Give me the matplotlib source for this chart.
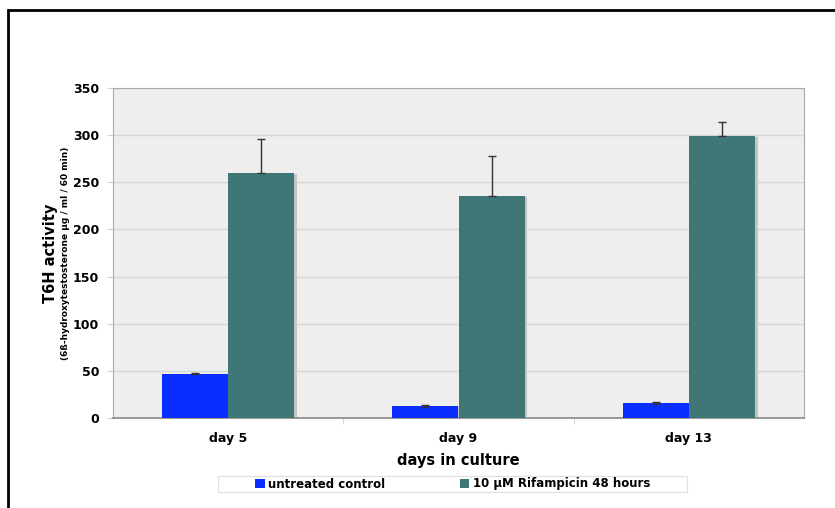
import matplotlib.pyplot as plt
import numpy as np
from matplotlib.patches import Rectangle

days = ['day 5', 'day 9', 'day 13']
control = [47, 13, 15.5]
control_err = [0.5, 1, 1]
rif = [259.5, 235.5, 299.5]
rif_err = [36.5, 42, 14]
series_names = ['untreated control', '10 \u00b5M Rifampicin 48 hours']

blue = '#0A2EFF'
teal = '#3F7777'

fig = plt.figure(figsize=(8.35, 5.08), dpi=100)
# black frame around the chart
fig.patches.append(Rectangle((8 / 835, -0.1), 2, 1.1 - 10 / 508, transform=fig.transFigure,
                             fill=False, edgecolor='black', linewidth=2))
# legend box
fig.patches.append(Rectangle((218 / 835, 1 - 492 / 508), (687 - 218) / 835, 16 / 508,
                             transform=fig.transFigure, facecolor='white',
                             edgecolor='#E0E0E0', linewidth=0.8))

ax = fig.add_axes([113 / 835, 1 - 418 / 508, (804 - 113) / 835, (418 - 88) / 508])
ax.set_facecolor('#EEEEEE')

x = np.arange(len(days))
w = 0.287
# soft shadow on the right of each bar
for xs, vals in [(x - w / 2, control), (x + w / 2, rif)]:
    ax.bar(xs + 0.012, np.array(vals) - 1.2, w, bottom=0, color='#C4C4C4', zorder=2)
ax.bar(x - w / 2, control, w, color=blue, yerr=control_err, capsize=3,
       error_kw=dict(ecolor='#333333', elinewidth=1, capthick=1), label=series_names[0], zorder=3)
ax.bar(x + w / 2, rif, w, color=teal, yerr=[np.zeros(3), rif_err], capsize=3,
       error_kw=dict(ecolor='#333333', elinewidth=1, capthick=1), label=series_names[1], zorder=3)

ax.set_xlim(-0.5, 2.5)
ax.set_ylim(0, 350)
ax.set_yticks(range(0, 351, 50))
ax.yaxis.grid(True, color='#D6D6D6', linewidth=1)
ax.set_axisbelow(True)
ax.set_xticks(x)
ax.set_xticklabels(days, fontsize=9, fontweight='bold')
ax.set_xticks([0.5, 1.5], minor=True)
ax.tick_params(axis='x', which='major', length=0, pad=10)
ax.tick_params(axis='x', which='minor', length=4, color='#CCCCCC')
ax.tick_params(axis='y', length=4, color='#CCCCCC', labelsize=9, pad=6)
for lbl in ax.get_yticklabels():
    lbl.set_fontweight('bold')
for s in ['top', 'right', 'left']:
    ax.spines[s].set_color('#AAAAAA')
ax.spines['bottom'].set_color('#888888')
ax.spines['bottom'].set_linewidth(1.2)

ax.set_xlabel('days in culture', fontsize=10.5, fontweight='bold', labelpad=6)
fig.text(50 / 835, 1 - 253 / 508, 'T6H activity', rotation=90, fontsize=10.5, fontweight='bold',
         ha='center', va='center')
fig.text(66 / 835, 1 - 253 / 508, '(6\u00df-hydroxytestosterone \u00b5g / ml / 60 min)', rotation=90,
         fontsize=6.5, fontweight='bold', ha='center', va='center')

leg = fig.legend(loc='center', bbox_to_anchor=(452.5 / 835, 1 - 484 / 508),
                 ncol=2, frameon=False, columnspacing=6.3,
                 handlelength=0.8, handleheight=0.8, borderpad=0.1, handletextpad=0.3,
                 prop=dict(weight='bold', size=8.5), borderaxespad=0)

fig.savefig('out.png', dpi=100)
